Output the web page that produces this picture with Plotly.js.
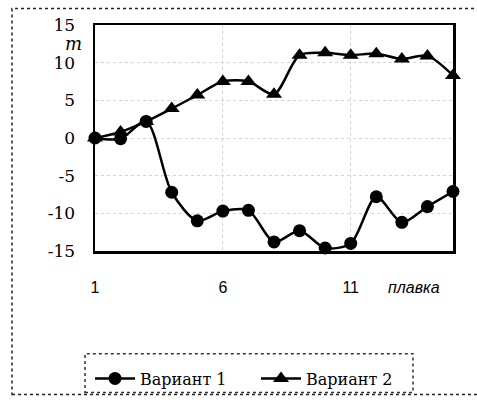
<!DOCTYPE html>
<html>
<head>
<meta charset="utf-8">
<script src="https://cdn.plot.ly/plotly-3.0.1.min.js"></script>
<style>html,body{margin:0;padding:0;background:#fff;}#chart{width:477px;height:408px;}</style>
</head>
<body>
<div id="chart"></div>
<script>
var melts = [1,2,3,4,5,6,7,8,9,10,11,12,13,14,15];
var variant1 = [0, -0.1, 2.2, -7.2, -11.0, -9.7, -9.6, -13.8, -12.3, -14.6, -14.0, -7.8, -11.2, -9.1, -7.1];
var variant2 = [0, 0.8, 2.2, 3.9, 5.7, 7.5, 7.5, 5.8, 11.0, 11.3, 11.0, 11.2, 10.5, 10.9, 8.3];
var seriesNames = ['Вариант 1', 'Вариант 2'];
var xTicks = [1, 6, 11];
var yTicks = [-15, -10, -5, 0, 5, 10, 15];
var yTickText = ['-15', '-10', '-5', '0', '5', '10', '15'];

var SERIF = 'DejaVu Serif';
var SANS = 'Liberation Sans';

var L = 95, T = 25, R = 453, B = 258, W = 477, H = 408;
function px(x){ return (x - L) / (R - L); }
function py(y){ return (B - y) / (B - T); }

var traces = [
  {x: melts, y: variant1, name: seriesNames[0], type: 'scatter', mode: 'lines+markers',
   line: {color: '#000', width: 2.5, shape: 'spline', smoothing: 0.8},
   marker: {symbol: 'circle', size: 13, color: '#000'}, cliponaxis: false},
  {x: melts, y: variant2, name: seriesNames[1], type: 'scatter', mode: 'lines+markers',
   line: {color: '#000', width: 2.5, shape: 'spline', smoothing: 0.8},
   marker: {symbol: 'triangle-up', size: 14, color: '#000'}, cliponaxis: false}
];

var layout = {
  width: W, height: H,
  font: {family: SERIF, color: '#000'},
  margin: {l: L, r: W - R, t: T, b: H - B, pad: 0},
  paper_bgcolor: '#fff', plot_bgcolor: '#fff',
  showlegend: true,
  legend: {orientation: 'h', x: px(90), y: py(407), xanchor: 'left', yanchor: 'bottom',
    font: {family: SERIF, size: 16, color: '#000'},
    bgcolor: 'rgba(0,0,0,0)', borderwidth: 0, itemwidth: 40,
    entrywidth: 111, entrywidthmode: 'pixels'},
  xaxis: {range: [1, 15], tickvals: xTicks, ticktext: xTicks.map(String),
    showline: true, linecolor: '#000', linewidth: 2.5, mirror: true,
    showgrid: true, gridcolor: '#d4d4d4', griddash: 'dot', gridwidth: 1,
    zeroline: false, ticks: '', ticklabelstandoff: 20,
    tickfont: {family: SANS, size: 16, color: '#000'}},
  yaxis: {range: [-15, 15], tickvals: yTicks, ticktext: yTickText,
    showline: true, linecolor: '#000', linewidth: 2.5, mirror: true,
    showgrid: true, gridcolor: '#d4d4d4', griddash: 'dot', gridwidth: 1,
    zeroline: false, ticks: '', ticklabelstandoff: 14,
    tickfont: {family: SERIF, size: 17, color: '#000'}},
  annotations: [
    {text: 'm', xref: 'paper', yref: 'paper', x: px(73), y: py(44), xanchor: 'center', yanchor: 'middle',
     showarrow: false, font: {family: SERIF, size: 18, color: '#000', style: 'italic'}},
    {text: 'плавка', xref: 'paper', yref: 'paper', x: px(414), y: py(296), xanchor: 'center', yanchor: 'middle',
     showarrow: false, font: {family: SANS, size: 16, color: '#000', style: 'italic'}}
  ],
  shapes: [
    {type: 'rect', xref: 'paper', yref: 'paper', x0: px(12), x1: px(479), y0: py(406), y1: py(8),
     line: {color: '#222', width: 1.5, dash: 'dot'}, fillcolor: 'rgba(0,0,0,0)'},
    {type: 'rect', xref: 'paper', yref: 'paper', x0: px(85), x1: px(413), y0: py(404), y1: py(364),
     line: {color: '#333', width: 1.5, dash: 'dot'}, fillcolor: 'rgba(0,0,0,0)'}
  ]
};

Plotly.newPlot('chart', traces, layout, {displayModeBar: false, staticPlot: true});
</script>
</body>
</html>
